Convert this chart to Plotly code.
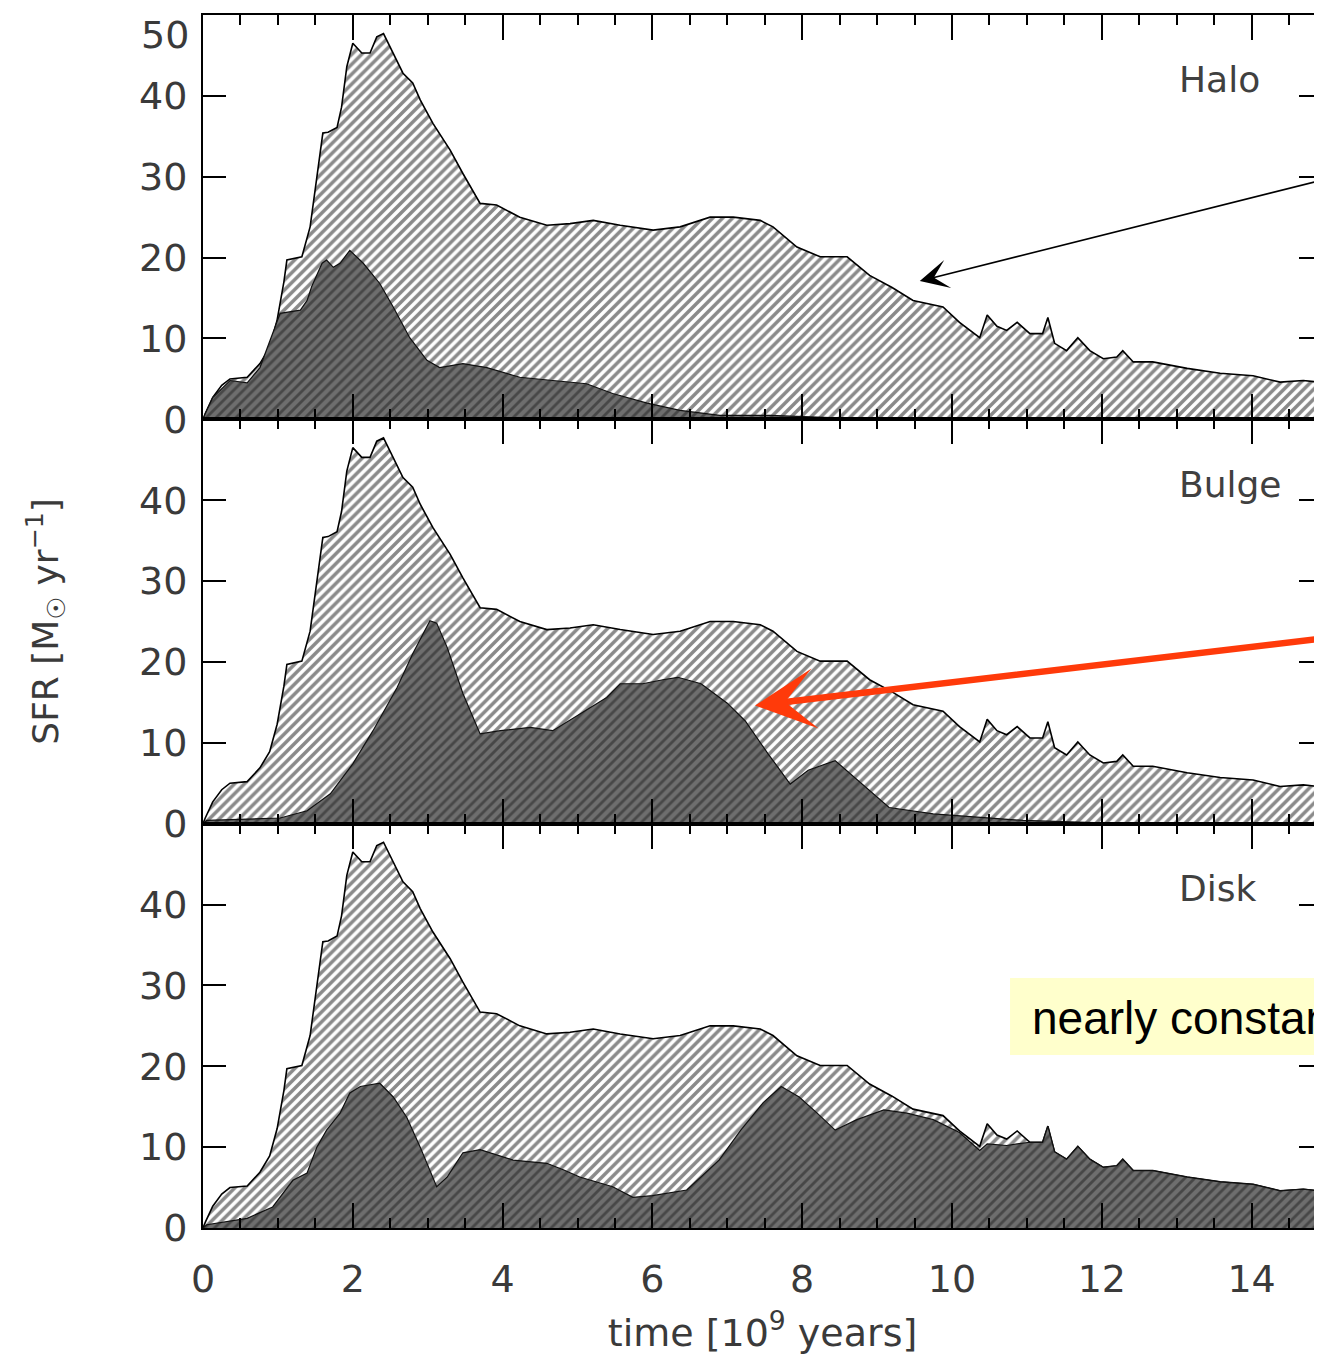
import plotly.graph_objects as go
from plotly.subplots import make_subplots

# ---------------- data ----------------
t_total = [0.0, 0.03, 0.13, 0.25, 0.36, 0.59, 0.76, 0.89, 0.99, 1.08, 1.12, 1.32, 1.43, 1.5, 1.6,
           1.67, 1.79, 1.85, 1.92, 2.0, 2.12, 2.23, 2.32, 2.41, 2.54, 2.67, 2.8, 2.9, 3.07, 3.3,
           3.47, 3.7, 3.92, 4.23, 4.59, 4.9, 5.21, 5.57, 6.01, 6.37, 6.77, 7.08, 7.44, 7.61,
           7.93, 8.24, 8.6, 8.9, 9.2, 9.48, 9.88, 10.1, 10.37, 10.47, 10.6, 10.73, 10.87, 11.04,
           11.21, 11.28, 11.37, 11.53, 11.68, 11.84, 12.02, 12.2, 12.28, 12.42, 12.68, 13.14,
           13.58, 14.02, 14.38, 14.69, 14.9, 15.0]
sfr_total = [0.0, 0.7, 2.7, 4.2, 5.0, 5.2, 6.9, 8.9, 12.3, 17.0, 19.7, 20.1, 23.8, 28.7, 35.4,
             35.5, 36.1, 38.6, 43.6, 46.5, 45.3, 45.3, 47.3, 47.7, 45.3, 42.8, 41.6, 39.5, 36.6, 33.3,
             30.4, 26.7, 26.5, 25.0, 24.0, 24.2, 24.6, 24.0, 23.4, 23.8, 25.0, 25.0, 24.6, 23.8,
             21.3, 20.1, 20.1, 17.8, 16.3, 14.7, 13.9, 12.0, 10.1, 12.9, 11.5, 11.0, 12.0, 10.6,
             10.6, 12.6, 9.4, 8.5, 10.1, 8.5, 7.5, 7.7, 8.5, 7.1, 7.1, 6.3,
             5.7, 5.4, 4.6, 4.8, 4.6, 4.5]

t_halo = [0.0, 0.03, 0.13, 0.36, 0.59, 0.76, 1.03, 1.16, 1.3, 1.39, 1.45, 1.59, 1.65, 1.74, 1.83,
          1.96, 2.14, 2.36, 2.54, 2.76, 2.99, 3.16, 3.47, 3.79, 4.23, 4.67, 5.12, 5.47, 5.93,
          6.37, 6.9, 7.57, 8.3, 9.0, 15.0]
sfr_halo = [0.0, 0.7, 2.7, 4.8, 4.5, 6.4, 13.1, 13.3, 13.5, 14.7, 16.4, 19.3, 19.7, 18.8, 19.3,
            20.9, 19.3, 16.8, 13.9, 10.1, 7.3, 6.4, 6.9, 6.4, 5.2, 4.8, 4.4, 3.2, 2.0,
            1.1, 0.5, 0.5, 0.2, 0.0, 0.0]

t_bulge = [0.0, 0.05, 1.03, 1.39, 1.7, 2.0, 2.27, 2.59, 2.8, 3.03, 3.12, 3.26, 3.47, 3.7, 3.97,
           4.37, 4.67, 5.03, 5.39, 5.57, 5.87, 6.14, 6.34, 6.65, 7.0, 7.24, 7.54, 7.84, 8.08,
           8.44, 8.8, 9.16, 9.75, 10.95, 12.0, 15.0]
sfr_bulge = [0.0, 0.4, 0.7, 1.6, 3.7, 7.4, 11.5, 16.8, 21.0, 25.1, 24.8, 21.8, 16.1, 11.1, 11.5,
             11.9, 11.5, 13.6, 15.6, 17.3, 17.3, 17.8, 18.1, 17.3, 14.9, 12.7, 8.7, 4.9, 6.6,
             7.8, 4.9, 2.0, 1.2, 0.4, 0.1, 0.0]

t_disk = [0.0, 0.05, 0.59, 0.93, 1.2, 1.39, 1.52, 1.65, 1.83, 1.96, 2.1, 2.36, 2.54, 2.72, 2.9,
          3.03, 3.12, 3.26, 3.47, 3.7, 4.14, 4.59, 4.81, 5.03, 5.47, 5.74, 6.0, 6.46, 6.89, 7.18,
          7.48, 7.72, 7.96, 8.2, 8.44, 8.73, 9.09, 9.4, 9.75, 10.1, 10.37, 10.47, 10.73, 10.87,
          11.04, 11.21, 11.28, 11.37, 11.53, 11.68, 11.84, 12.02, 12.2, 12.28, 12.42, 12.68,
          13.14, 13.58, 14.02, 14.38, 14.69, 14.9, 15.0]
sfr_disk = [0.0, 0.4, 1.2, 2.6, 5.9, 6.8, 10.0, 12.1, 14.2, 16.7, 17.5, 17.9, 16.2, 13.7, 10.0,
            7.2, 5.1, 6.3, 9.3, 9.7, 8.4, 8.0, 7.2, 6.3, 5.1, 3.8, 4.0, 4.7, 8.4, 12.1,
            15.5, 17.5, 16.2, 14.2, 12.1, 13.4, 14.6, 14.2, 13.4, 11.8, 9.6, 10.4, 10.2, 10.4,
            10.6, 10.6, 12.6, 9.4, 8.5, 10.1, 8.5, 7.5, 7.7, 8.5, 7.1, 7.1,
            6.3, 5.7, 5.4, 4.6, 4.8, 4.6, 4.5]

panel_names = ["Halo", "Bulge", "Disk"]
x_range = [0, 14.94]
y_range = [0, 50]
y_ticks_top = [0, 10, 20, 30, 40, 50]
y_ticktext_top = ["0", "10", "20", "30", "40", ""]   # "50" is placed just below the top edge
y_top_label = "50"
y_ticks = [0, 10, 20, 30, 40]
note_text = "nearly constant"

# ---------------- figure ----------------
fig = make_subplots(rows=3, cols=1, shared_xaxes=True, vertical_spacing=0)

total_pattern = dict(shape="/", bgcolor="white", fgcolor="#151515", size=7, solidity=0.5)
comp_pattern = dict(shape="/", bgcolor="#6e6e6e", fgcolor="#202020", size=7, solidity=0.4)

components = [(t_halo, sfr_halo), (t_bulge, sfr_bulge), (t_disk, sfr_disk)]
for i, (tc, sc) in enumerate(components, start=1):
    fig.add_trace(go.Scatter(x=t_total, y=sfr_total, mode="lines",
                             line=dict(color="black", width=1.6),
                             fill="tozeroy", fillpattern=total_pattern,
                             hoverinfo="skip"), row=i, col=1)
    fig.add_trace(go.Scatter(x=tc, y=sc, mode="lines",
                             line=dict(color="#111111", width=1.2),
                             fill="tozeroy", fillpattern=comp_pattern,
                             hoverinfo="skip"), row=i, col=1)

txt_color = "#3a3a3a"
tickfont = dict(family="DejaVu Sans", size=38, color=txt_color)
for i in range(1, 4):
    fig.update_xaxes(row=i, col=1, range=x_range, tick0=0, dtick=2,
                     ticks="inside", ticklen=25, tickwidth=2, tickcolor="black",
                     minor=dict(dtick=0.5, ticks="inside", ticklen=10, tickwidth=1.5,
                                tickcolor="black"),
                     showline=True, linecolor="black", linewidth=2, mirror="ticks",
                     showgrid=False, zeroline=False, automargin=False,
                     showticklabels=(i == 3), tickfont=tickfont,
                     ticklabelstandoff=16)
    if i == 1:
        yt = dict(tickvals=y_ticks_top, ticktext=y_ticktext_top)
    else:
        yt = dict(tickvals=y_ticks)
    fig.update_yaxes(row=i, col=1, range=y_range, **yt,
                     ticks="inside", ticklen=23, tickwidth=2, tickcolor="black",
                     showline=True, linecolor="black", linewidth=2, mirror="ticks",
                     showgrid=False, zeroline=False, tickfont=tickfont, automargin=False,
                     ticklabelstandoff=6, ticklabeloverflow="allow")

fig.update_xaxes(row=3, col=1,
                 title=dict(text="time [10<sup>9</sup> years]",
                            font=dict(family="DejaVu Sans", size=38, color=txt_color),
                            standoff=20))

# top "50" label, kept inside the page
fig.add_annotation(x=0, y=50, xref="x domain", yref="y", text=y_top_label, showarrow=False,
                   xanchor="right", yanchor="top", xshift=-12, yshift=4,
                   font=tickfont)

# panel labels
for i, name in enumerate(panel_names, start=1):
    xr = "x" if i == 1 else f"x{i}"
    yr = "y" if i == 1 else f"y{i}"
    fig.add_annotation(x=13.0, y=42, xref=xr, yref=yr, text=name, showarrow=False,
                       xanchor="left", yanchor="middle",
                       font=dict(family="DejaVu Sans", size=36, color="#404040"))

# y-axis title
fig.add_annotation(x=-0.141, y=0.5, xref="paper", yref="paper",
                   text="SFR [M<sub>☉</sub> yr<sup>−1</sup>]", textangle=-90,
                   showarrow=False, xanchor="center", yanchor="middle",
                   font=dict(family="DejaVu Sans", size=36, color=txt_color))

# black arrow (top panel)
fig.add_annotation(x=9.57, y=17.1, xref="x", yref="y", text="", showarrow=True,
                   ax=502, ay=-101, arrowhead=3, arrowsize=3.0, arrowwidth=1.6,
                   arrowcolor="black", standoff=0)
# red arrow (middle panel)
fig.add_annotation(x=7.37, y=14.6, xref="x2", yref="y2", text="", showarrow=True,
                   ax=667, ay=-67, arrowhead=3, arrowsize=1.55, arrowwidth=6.5,
                   arrowcolor="#FF3A0A", standoff=0)

# yellow note box (bottom panel)
fig.add_shape(type="rect", xref="paper", yref="paper",
              x0=0.7212, x1=1.0, y0=0.1426, y1=0.2061,
              fillcolor="#FFFFCC", line=dict(width=0), layer="above")
fig.add_annotation(x=0.739, y=0.1731, xref="paper", yref="paper", text=note_text,
                   showarrow=False, xanchor="left", yanchor="middle",
                   font=dict(family="Liberation Sans", size=46, color="black"))

# page body has an 8 px margin: figure is sized/offset so the plot lands where the reference has it
fig.update_layout(width=1314, height=1347,
                  margin=dict(l=195, r=0, t=7, b=127, autoexpand=False),
                  plot_bgcolor="white", paper_bgcolor="white",
                  showlegend=False)

fig.write_html("out.html")
